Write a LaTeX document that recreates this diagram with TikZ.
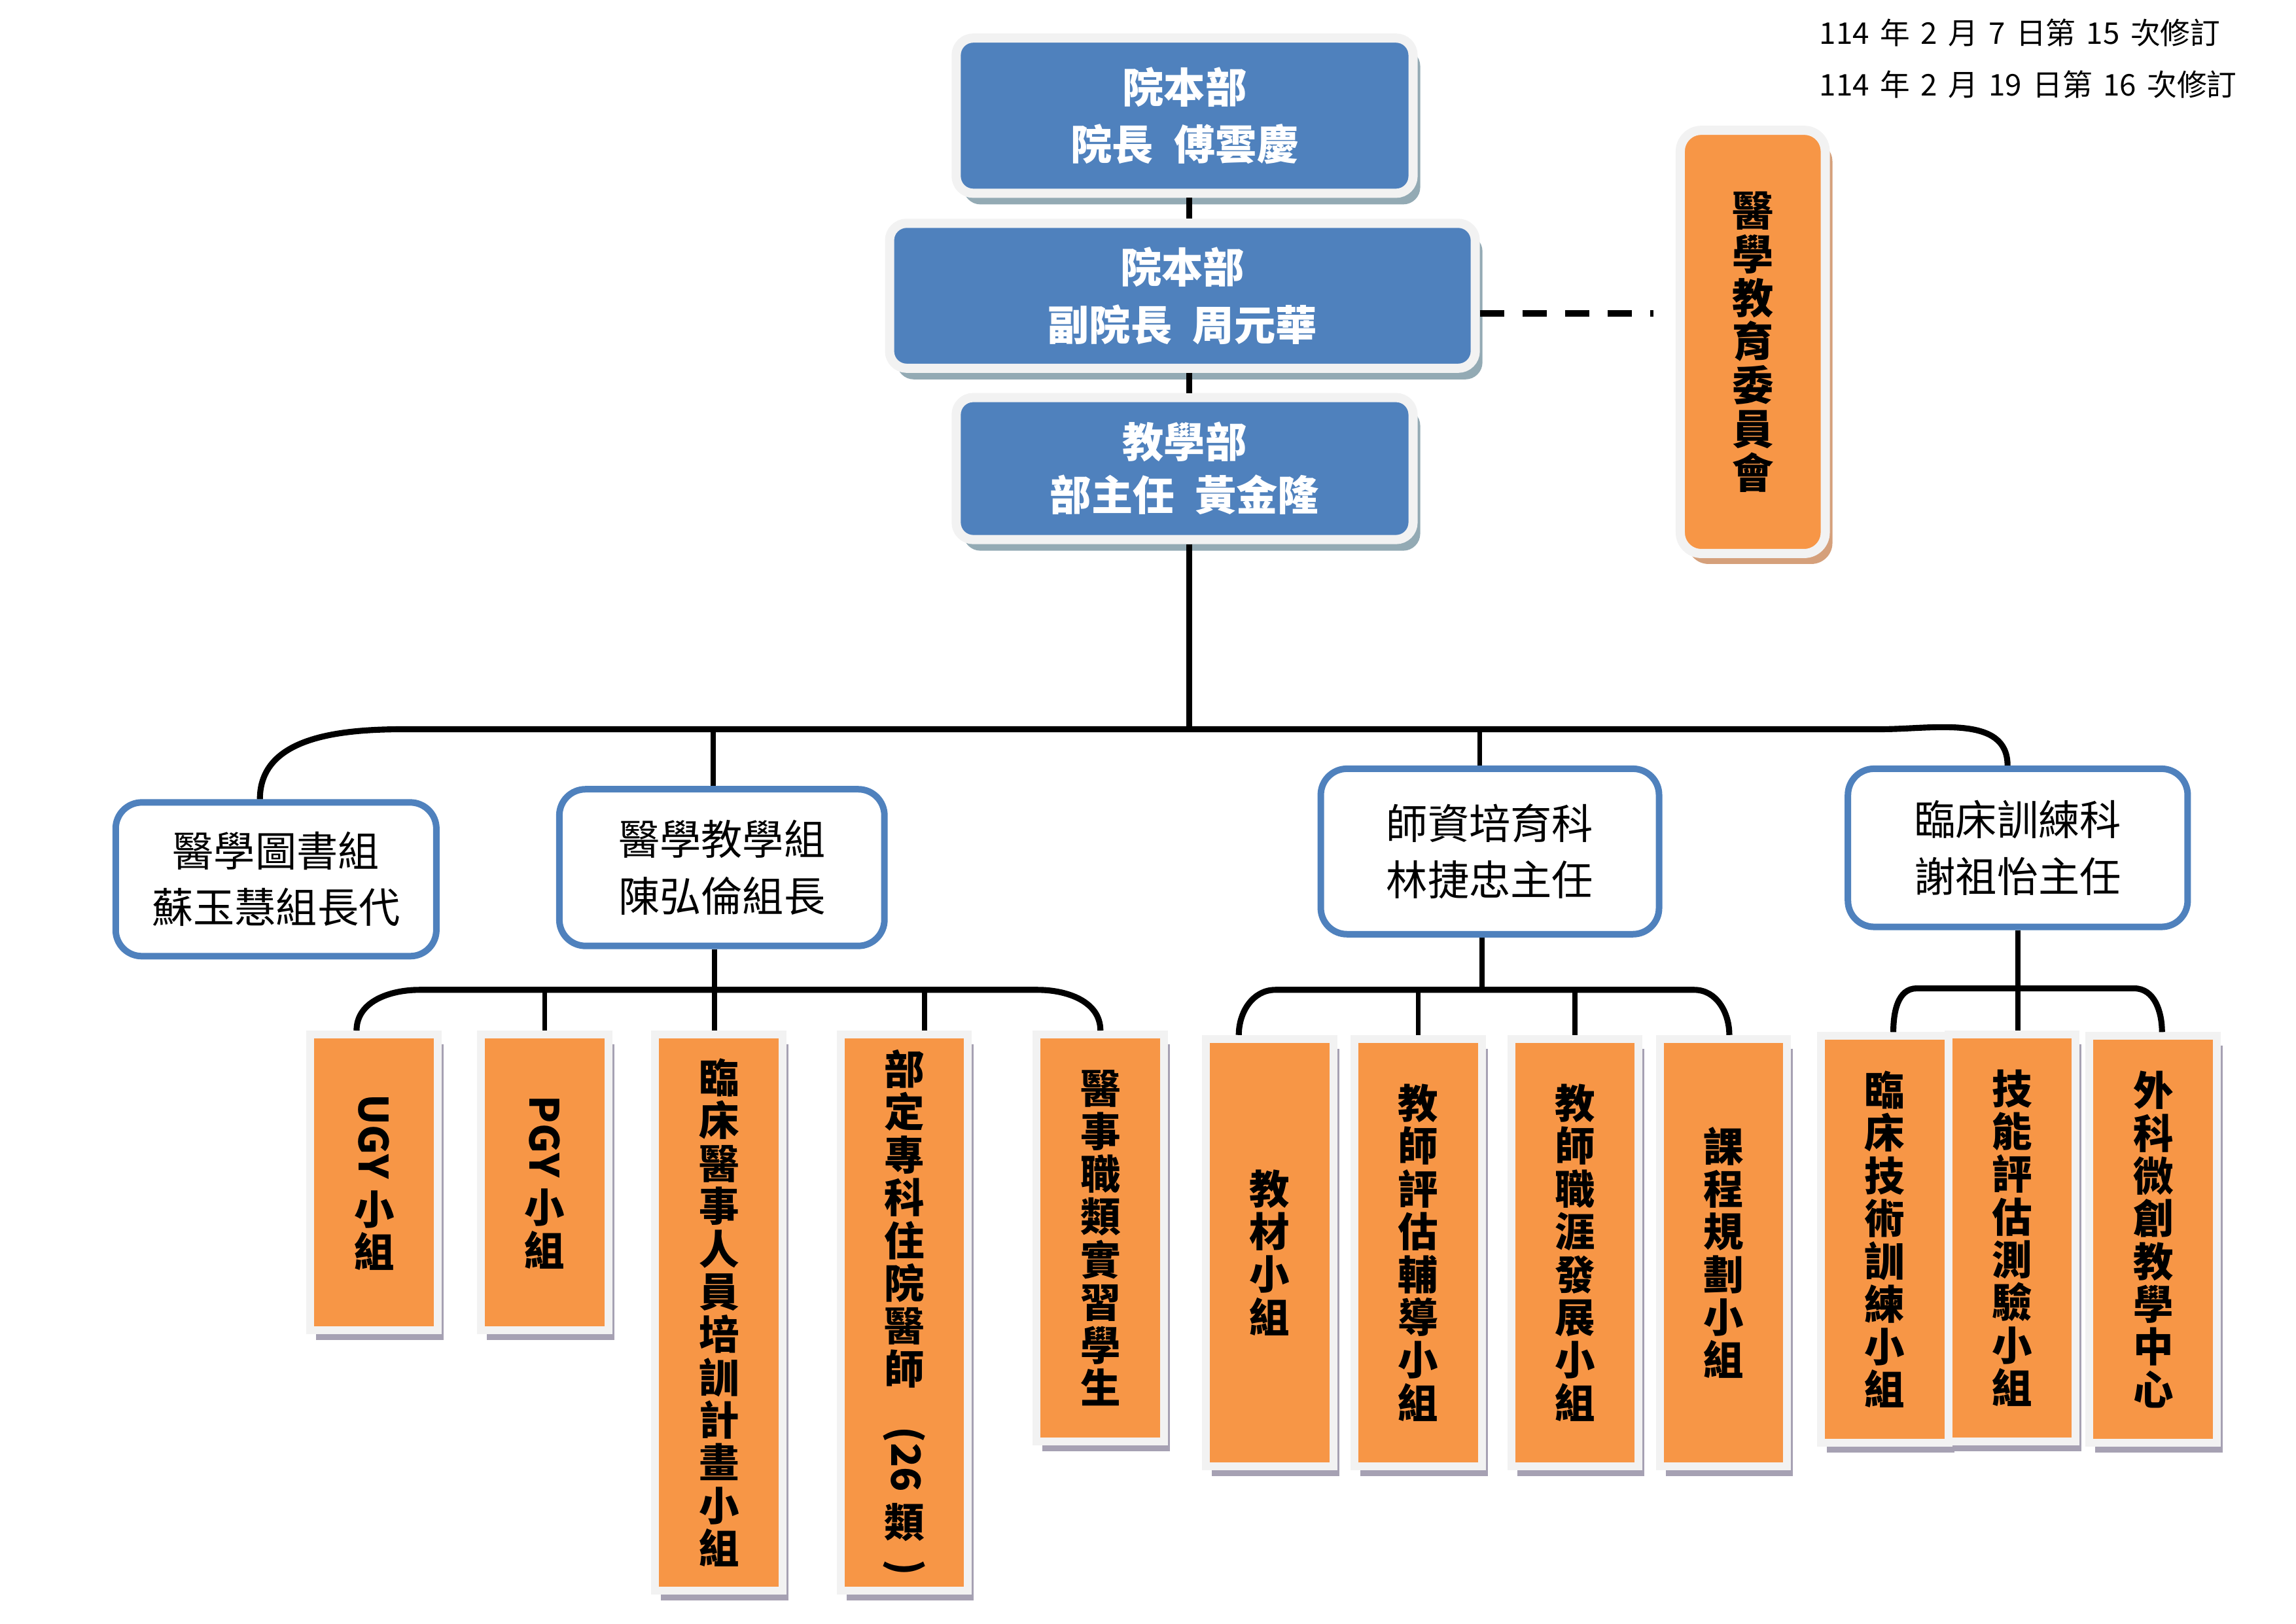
\documentclass[tikz,border=0pt]{standalone}
\usepackage{fontspec}
\setmainfont{Noto Sans CJK TC}
\usetikzlibrary{calc,shadows}

\definecolor{boardblue}{HTML}{4F81BD}
\definecolor{rimgray}{HTML}{F2F2F2}
\definecolor{headshade}{HTML}{93AAB4}
\definecolor{teamorange}{HTML}{F79646}
\definecolor{teamshade}{HTML}{A6A1B3}
\definecolor{councilshade}{HTML}{D5A07B}

\newcommand{\px}{0.2238mm}
\newcommand{\orgheadnode}[6][] {\node at (#2) (#3) [headbox, minimum width=#4*\px, minimum height=#5*\px, #1] {#6};}
\newcommand{\orgsectionnode}[5] {\node at (#1) (#2) [sectionbox, minimum width=#3*\px, minimum height=#4*\px] {#5};}
\newcommand{\orgteamnode}[4] {\node at (#1) (#2) [teambox, minimum height=#3*\px] {#4};}

\begin{document}
\begin{tikzpicture}[x=\px, y=-\px,
  headbox/.style={draw=rimgray, line width=1.4mm, fill=boardblue, rounded corners=2.6mm,
    text=white, align=center, font=\fontsize{18}{25}\selectfont\bfseries,
    drop shadow={shadow xshift=1.1mm, shadow yshift=-1.7mm, fill=headshade, opacity=1}},
  councilbox/.style={draw=rimgray, line width=1.4mm, fill=teamorange, rounded corners=3.2mm,
    align=center, font=\fontsize{18}{19}\selectfont\bfseries,
    minimum width=99*\px, minimum height=289*\px,
    drop shadow={shadow xshift=1.1mm, shadow yshift=-1.6mm, fill=councilshade, opacity=1}},
  sectionbox/.style={draw=boardblue, line width=1mm, fill=white, rounded corners=4mm,
    align=center, font=\fontsize{18}{24.5}\selectfont},
  teambox/.style={draw=rimgray, line width=1.2mm, fill=teamorange, inner sep=0pt,
    minimum width=87*\px, align=center, font=\fontsize{17.5}{18.6}\selectfont\bfseries,
    drop shadow={shadow xshift=0.9mm, shadow yshift=-1.5mm, fill=teamshade, opacity=1}},
  link/.style={line width=2.6pt},
  sublink/.style={line width=2.2pt},
  dashlink/.style={line width=2.8pt, dash pattern=on 3.7mm off 2.8mm}]

\useasboundingbox (0,0) rectangle (1568,1109);

% revision note
\node at (1237,40) (rev) [anchor=west, align=left, font={\fontsize{13}{22.3}\selectfont\spaceskip=0.36em}]
  {114 年 2 月 7 日第 15 次修訂\\114 年 2 月 19 日第 16 次修訂};

% top of the chart
\orgheadnode {809,79} {pres} {312} {106} {院本部\\院長\hspace{0.5em}傅雲慶};
\orgheadnode {807.5,202} {vp} {400} {99} {院本部\\副院長\hspace{0.5em}周元華};
\orgheadnode[font=\fontsize{18}{23}\selectfont\bfseries] {809,320} {dept} {312} {97} {教學部\\部主任\hspace{0.5em}黃金隆};
\node at (1197,233.5) (council) [councilbox] {醫\\學\\教\\育\\委\\員\\會};

% sections
\orgsectionnode {188.5,600.5} {lib} {219} {105} {醫學圖書組\\蘇玉慧組長代};
\orgsectionnode {493,592.5} {edu} {222} {107} {醫學教學組\\陳弘倫組長};
\orgsectionnode {1017.5,581.5} {tch} {231} {113} {師資培育科\\林捷忠主任};
\orgsectionnode {1378,579} {clin} {232} {108} {臨床訓練科\\謝祖怡主任};

% teams under 醫學教學組
\orgteamnode {255.5,807.5} {ugy} {202} {\rotatebox{-90}{UGY\ }\\小\\組};
\orgteamnode {372,807.5} {pgy} {202} {\rotatebox{-90}{PGY\ }\\小\\組};
\orgteamnode {491,896.5} {staff} {380} {臨\\床\\醫\\事\\人\\員\\培\\訓\\計\\畫\\小\\組};
\orgteamnode {617.5,896.5} {resid} {380} {部\\定\\專\\科\\住\\院\\醫\\師\\\rotatebox{-90}{(26\ }\\類\\[-9pt]\rotatebox{-90}{)}};
\orgteamnode {751.5,845.5} {intern} {278} {醫\\事\\職\\類\\實\\習\\學\\生};

% teams under 師資培育科
\orgteamnode {867,855.5} {mat} {292} {教\\材\\小\\組};
\orgteamnode {968.5,855.5} {eval} {292} {教\\師\\評\\估\\輔\\導\\小\\組};
\orgteamnode {1075.5,855.5} {career} {292} {教\\師\\職\\涯\\發\\展\\小\\組};
\orgteamnode {1177,855.5} {curric} {292} {課\\程\\規\\劃\\小\\組};

% teams under 臨床訓練科
\orgteamnode {1287,846.5} {skill} {278} {臨\\床\\技\\術\\訓\\練\\小\\組};
\orgteamnode {1374,845.5} {exam} {278} {技\\能\\評\\估\\測\\驗\\小\\組};
\orgteamnode {1470.5,846.5} {mis} {278} {外\\科\\微\\創\\教\\學\\中\\心};

% connectors
\coordinate (dashend) at (1129,214);
\coordinate (mainbus) at (812,498);
\coordinate (edubus) at (488,676);
\coordinate (tchbus) at (1012,676);
\coordinate (clinbus) at (1378,675);

\draw [link] (pres.south -| mainbus) -- (vp.north -| mainbus);
\draw [link] (vp.south -| mainbus) -- (dept.north -| mainbus);
\draw [dashlink] (vp.east |- dashend) -- (dashend);
\draw [link] (dept.south -| mainbus) -- (mainbus);

\draw [link] ($(lib.north)+(-11,0)$) to[out=90, in=180] ($(lib.north |- mainbus)+(89,0)$)
  -- ($(clin.north |- mainbus)+(-93,0)$) to[out=0, in=90] ($(clin.north)+(-7,0)$);
\draw [sublink] ($(edu.north)+(-6,0)$) -- ($(edu.north |- mainbus)+(-6,0)$);
\draw [sublink] ($(tch.north)+(-7,0)$) -- ($(tch.north |- mainbus)+(-7,0)$);

\draw [link] ($(ugy.north)+(-12,0)$) to[out=90, in=180] ($(ugy.north |- edubus)+(31,0)$)
  -- ($(intern.north |- edubus)+(-43,0)$) to[out=0, in=90] (intern.north);
\draw [sublink] (edu.south -| edubus) -- (staff.north -| edubus);
\draw [sublink] (pgy.north) -- (pgy.north |- edubus);
\draw [sublink] ($(resid.north)+(14,0)$) -- ($(resid.north |- edubus)+(14,0)$);

\draw [link] ($(mat.north)+(-21,0)$) to[out=90, in=180] ($(mat.north |- tchbus)+(4,0)$)
  -- ($(curric.north |- tchbus)+(-20,0)$) to[out=0, in=90] ($(curric.north)+(4,0)$);
\draw [sublink] (tch.south -| tchbus) -- (tchbus);
\draw [sublink] (eval.north) -- (eval.north |- tchbus);
\draw [sublink] (career.north) -- (career.north |- tchbus);

\draw [link] ($(skill.north)+(6,0)$) to[out=90, in=180] ($(skill.north |- clinbus)+(22,0)$)
  -- ($(mis.north |- clinbus)+(-13,0)$) to[out=0, in=90] ($(mis.north)+(6,0)$);
\draw [sublink] (clin.south -| clinbus) -- (exam.north -| clinbus);

\end{tikzpicture}
\end{document}
